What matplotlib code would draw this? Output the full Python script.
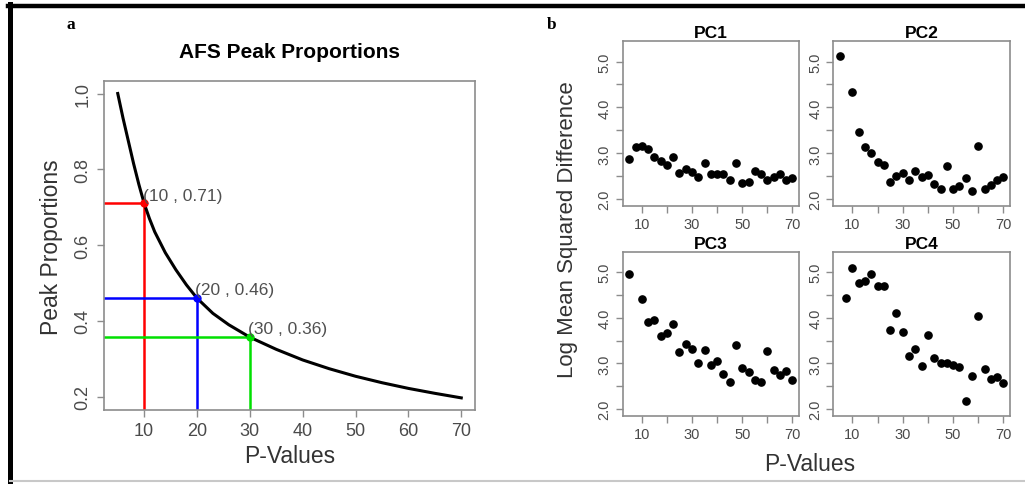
import numpy as np
import matplotlib
matplotlib.use("Agg")
from matplotlib import pyplot as plt
from matplotlib.lines import Line2D

plt.rcParams['font.family'] = ['Liberation Sans', 'DejaVu Sans']

# panel a: AFS peak proportion curve
curve_p = [5, 6, 7, 8, 9, 10, 11, 12, 14, 16, 18, 20, 23, 26, 30, 35, 40, 45, 50, 55, 60, 65, 70]
curve_prop = [1.0, 0.935, 0.875, 0.815, 0.76, 0.71, 0.67, 0.635, 0.58, 0.535, 0.495, 0.46,
              0.42, 0.39, 0.357, 0.325, 0.297, 0.274, 0.254, 0.237, 0.222, 0.209, 0.197]
mark_p = [10, 20, 30]
mark_prop = [0.71, 0.46, 0.357]
mark_colors = ['#ff0000', '#0000ff', '#00e000']

# panel b: log mean squared difference per PC
p_values = [5, 7.5, 10, 12.5, 15, 17.5, 20, 22.5, 25, 27.5, 30, 32.5, 35, 37.5, 40,
            42.5, 45, 47.5, 50, 52.5, 55, 57.5, 60, 62.5, 65, 67.5, 70]
nan = np.nan
pc1 = [2.88, 3.13, 3.15, 3.09, 2.91, 2.83, 2.75, 2.92, 2.58, 2.66, 2.60, 2.49, 2.78, 2.56,
       2.54, 2.56, 2.41, 2.78, 2.35, 2.38, 2.62, 2.54, 2.43, 2.48, 2.54, 2.43, 2.47]
pc2 = [5.11, nan, 4.33, 3.46, 3.14, 3.00, 2.81, 2.75, 2.37, 2.51, 2.57, 2.43, 2.61, 2.48,
       2.53, 2.34, 2.22, 2.73, 2.22, 2.28, 2.46, 2.17, 3.16, 2.22, 2.30, 2.43, 2.49]
pc3 = [4.95, nan, 4.40, 3.91, 3.94, 3.61, 3.66, 3.87, 3.26, 3.42, 3.32, 3.00, 3.30, 2.97,
       3.06, 2.77, 2.59, 3.40, 2.90, 2.82, 2.63, 2.60, 3.28, 2.86, 2.75, 2.84, 2.64]
pc4 = [nan, 4.43, 5.09, 4.75, 4.80, 4.96, 4.69, 4.69, 3.74, 4.10, 3.68, 3.16, 3.31, 2.94,
       3.62, 3.11, 3.00, 3.00, 2.96, 2.93, 2.19, 2.73, 4.03, 2.88, 2.67, 2.70, 2.57]
pc_names = ['PC1', 'PC2', 'PC3', 'PC4']

W, H = 1025, 485
fig = plt.figure(figsize=(W / 100, H / 100), dpi=100)

def box(x0, y0, x1, y1):
    # pixel box (top-left origin) -> figure fraction rect
    return [x0 / W, 1 - y1 / H, (x1 - x0) / W, (y1 - y0) / H]

spine_col = '#8c8c8c'
tick_col = '#4a4a4a'

def r_style(ax, size, pad):
    for s in ax.spines.values():
        s.set_color(spine_col)
        s.set_linewidth(1.2)
    ax.tick_params(colors=spine_col, labelcolor=tick_col, labelsize=size,
                   length=5, width=1, pad=pad)
    ax.tick_params(axis='y', labelrotation=90)
    for lab in ax.get_yticklabels():
        lab.set_va('center')

# ---- panel a ----
ax = fig.add_axes(box(104, 82, 475, 411))
ax.plot(curve_p, curve_prop, color='black', lw=2.2, zorder=3)
for x, y, c in zip(mark_p, mark_prop, mark_colors):
    ax.plot([x, x], [0, y], color=c, lw=1.8, zorder=2)
    ax.plot([0, x], [y, y], color=c, lw=1.8, zorder=2)
    ax.plot(x, y, 'o', color=c, ms=5, zorder=4)
    ax.text(x - 0.3, y + 0.002, '(%d , %.2f)' % (x, y), ha='left', va='bottom',
            fontsize=12.5, color='#505050', zorder=5)
ax.set_xlim(2.4, 72.6)
ax.set_ylim(0.165, 1.033)
ax.set_xticks(range(10, 71, 10))
ax.set_yticks([0.2, 0.4, 0.6, 0.8, 1.0])
r_style(ax, 13, 4)
ax.set_title('AFS Peak Proportions', fontsize=15, fontweight='bold', pad=17)
fig.text(290 / W, 1 - 457 / H, 'P-Values', ha='center', va='center',
         fontsize=16.5, color='#333333')
fig.text(52 / W, 1 - 247 / H, 'Peak Proportions', ha='center', va='center',
         rotation=90, fontsize=16.5, color='#333333')

# ---- panel b ----
boxes = [box(622.7, 42.3, 799, 206.7), box(833.3, 42.3, 1010, 206.7),
         box(622.7, 252.7, 799, 416.7), box(833.3, 252.7, 1010, 416.7)]
for rect, vals, name in zip(boxes, [pc1, pc2, pc3, pc4], pc_names):
    bx = fig.add_axes(rect)
    bx.plot(p_values, vals, 'o', color='black', ms=5.2)
    bx.set_xlim(2.4, 72.6)
    bx.set_ylim(1.86, 5.44)
    bx.set_xticks(range(10, 71, 10))
    bx.set_xticklabels(['10', '', '30', '', '50', '', '70'])
    bx.set_yticks([2, 2.5, 3, 3.5, 4, 4.5, 5])
    bx.set_yticklabels(['2.0', '', '3.0', '', '4.0', '', '5.0'])
    r_style(bx, 10.5, 3)
    bx.set_title(name, fontsize=12.5, fontweight='bold', pad=3)

fig.text(567 / W, 1 - 230 / H, 'Log Mean Squared Difference', ha='center', va='center',
         rotation=90, fontsize=16, color='#333333')
fig.text(810 / W, 1 - 465 / H, 'P-Values', ha='center', va='center',
         fontsize=16.5, color='#333333')

# panel letters
fig.text(71 / W, 1 - 25 / H, 'a', ha='center', va='center', fontsize=12.5,
         fontweight='bold', family='Liberation Serif')
fig.text(552 / W, 1 - 25 / H, 'b', ha='center', va='center', fontsize=12.5,
         fontweight='bold', family='Liberation Serif')

# frame lines
fig.add_artist(Line2D([8 / W, 1], [1 - 7 / H, 1 - 7 / H], color='black', lw=3.2))
fig.add_artist(Line2D([10 / W, 10 / W], [1 - 5 / H, 0], color='black', lw=3.6))
fig.add_artist(Line2D([10 / W, 1], [1 - 482 / H, 1 - 482 / H], color='#c8c8c8', lw=1.5))

fig.savefig('out.png', dpi=100)
